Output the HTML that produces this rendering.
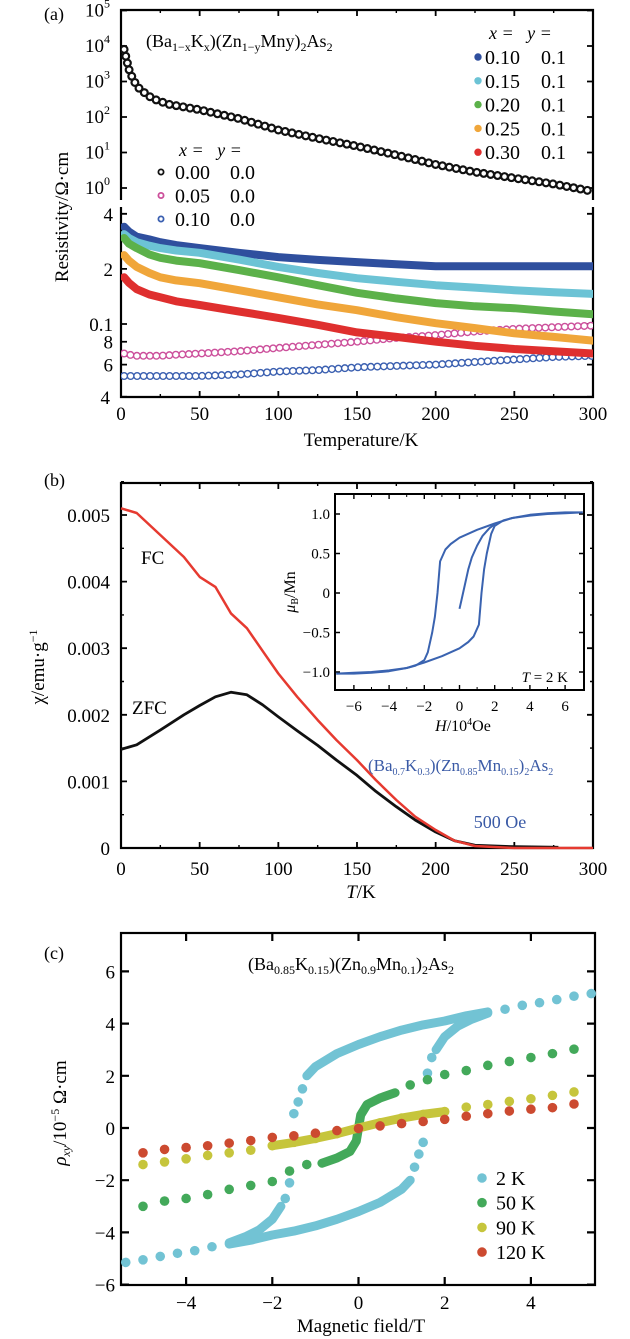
<!DOCTYPE html>
<html><head><meta charset="utf-8">
<style>
html,body{margin:0;padding:0;background:#fff;}
svg{display:block;font-family:"Liberation Serif",serif;}
</style></head>
<body>
<svg id="fig" width="630" height="1339" viewBox="0 0 630 1339" xmlns="http://www.w3.org/2000/svg">
<defs>
<clipPath id="clipAU"><rect x="121" y="10" width="472" height="190"/></clipPath>
<clipPath id="clipAL"><rect x="121" y="207" width="472" height="190"/></clipPath>
</defs>
<g id="pa"></g>
<g id="pb"></g>
<g id="pc"></g>
</svg>
<script>
// ---------- Panel (a) data ----------
const aTempsBlack = [2,5,8,12,20,30,50,75,100,125,150,175,200,225,250,275,300];
const aRhoBlack = [8000,2200,1050,600,330,230,160,90,43,25,15,8.5,4.6,2.8,1.9,1.3,0.8];
const aTemps = [2,5,10,18,25,35,50,75,100,125,150,175,200,225,250,275,300];
const aRhoX10 = [0.34,0.32,0.30,0.29,0.28,0.27,0.26,0.245,0.232,0.224,0.218,0.212,0.207,0.207,0.207,0.207,0.207];
const aRhoX15 = [0.31,0.295,0.28,0.268,0.26,0.252,0.245,0.225,0.205,0.19,0.178,0.17,0.163,0.158,0.153,0.149,0.146];
const aRhoX20 = [0.295,0.275,0.26,0.24,0.23,0.222,0.215,0.197,0.18,0.163,0.148,0.138,0.13,0.125,0.122,0.117,0.113];
const aRhoX25 = [0.238,0.222,0.205,0.19,0.18,0.173,0.167,0.153,0.14,0.128,0.119,0.109,0.101,0.095,0.089,0.085,0.081];
const aRhoX30 = [0.18,0.168,0.155,0.145,0.14,0.133,0.127,0.117,0.108,0.099,0.09,0.085,0.08,0.076,0.073,0.071,0.069];
const aRhoP05 = [0.069,0.068,0.067,0.067,0.067,0.068,0.069,0.071,0.074,0.077,0.08,0.084,0.087,0.091,0.094,0.096,0.098];
const aRhoB10 = [0.052,0.052,0.052,0.052,0.052,0.052,0.052,0.053,0.055,0.056,0.058,0.059,0.06,0.062,0.064,0.066,0.067];
const aXTicks = [0,50,100,150,200,250,300];
const aUpperTicks = [0,1,2,3,4,5];
const aLowerTicks = [0.04,0.06,0.08,0.1,0.2,0.4];
const aLowerTickLabels = ["4","6","8","0.1","2","4"];
// ---------- Panel (b) data ----------
const bTemps = [0,10,25,40,50,60,70,80,90,100,112,125,137,150,162,175,187,200,212,225,240,250,275,300];
const bFC = [0.00510,0.00503,0.00470,0.00437,0.00407,0.00392,0.00352,0.00330,0.00296,0.00262,0.00227,0.00192,0.00162,0.00132,0.00102,0.00072,0.00047,0.00027,0.00011,0.00003,0.00001,0.0,0.0,0.0];
const bZFCTemps = [0,10,25,40,50,60,70,80,90,100,112,125,137,150,162,175,187,200,212,225,250,278];
const bZFC = [0.00148,0.00155,0.00177,0.00200,0.00214,0.00227,0.00234,0.00230,0.00215,0.00197,0.00176,0.00154,0.00132,0.00109,0.00085,0.00062,0.00042,0.00024,0.00011,0.00004,0.00002,0.00001];
const bYTicks = [0,0.001,0.002,0.003,0.004,0.005];
const bYTickLabels = ["0","0.001","0.002","0.003","0.004","0.005"];
const bXTicks = [0,50,100,150,200,250,300];
const insetHDown = [7,6,5,4,3,2,1,0,-0.5,-0.8,-1.1,-1.25,-1.4,-1.55,-1.8,-2.0,-2.5,-3,-4,-5,-6,-7];
const insetMDown = [1.02,1.02,1.01,0.99,0.95,0.88,0.80,0.70,0.62,0.55,0.40,0.0,-0.3,-0.5,-0.75,-0.85,-0.92,-0.95,-0.98,-1.0,-1.01,-1.02];
const insetHUp = [-7,-6,-5,-4,-3,-2,-1,0,0.5,0.8,1.1,1.25,1.4,1.55,1.8,2.0,2.5,3,4,5,6,7];
const insetMUp = [-1.02,-1.02,-1.01,-0.99,-0.95,-0.88,-0.80,-0.70,-0.62,-0.55,-0.40,0.0,0.3,0.5,0.75,0.85,0.92,0.95,0.98,1.0,1.01,1.02];
const insetHVirgin = [0,0.1,0.3,0.5,0.7,1.0,1.3,1.7,2.0];
const insetMVirgin = [-0.2,-0.1,0.1,0.3,0.45,0.6,0.72,0.82,0.87];
const insetXTicks = [-6,-4,-2,0,2,4,6];
const insetYTicks = [-1,-0.5,0,0.5,1];
const insetYTickLabels = ["\u22121.0","\u22120.5","0","0.5","1.0"];
// ---------- Panel (c) data ----------
const c2KSparseH = [5.4,5.0,4.6,4.2,3.8,3.4,-5.4,-5.0,-4.6,-4.2,-3.8,-3.4,-1.5,-1.4,-1.3,1.5,1.4,1.3,-1.6,-1.7,1.6,1.7];
const c2KSparseV = [5.15,5.05,4.92,4.8,4.7,4.55,-5.15,-5.05,-4.92,-4.8,-4.7,-4.55,0.55,1.0,1.5,-0.55,-1.0,-1.5,-2.1,-2.7,2.1,2.7];
const c2KLoopUpH = [3,2.5,2,1.5,1,0.5,0,-0.5,-1,-1.2];
const c2KLoopUpV = [4.45,4.3,4.1,3.95,3.75,3.5,3.2,2.85,2.35,2.0];
const c2KLoopLoH = [-3,-2.5,-2,-1.5,-1,-0.5,0,0.5,1,1.2];
const c2KLoopLoV = [-4.45,-4.3,-4.1,-3.95,-3.75,-3.5,-3.2,-2.85,-2.35,-2.0];
const c2KTailPosH = [1.8,2.0,2.3,2.6,3.0];
const c2KTailPosV = [3.0,3.5,3.9,4.15,4.4];
const c2KTailNegH = [-1.8,-2.0,-2.3,-2.6,-3.0];
const c2KTailNegV = [-3.0,-3.5,-3.9,-4.15,-4.4];
const c50KH = [-5,-4.5,-4,-3.5,-3,-2.5,-2,-1.6,-1.2,1.2,1.6,2,2.5,3,3.5,4,4.5,5];
const c50KV = [-3.0,-2.8,-2.7,-2.55,-2.35,-2.2,-2.05,-1.65,-1.4,1.65,1.85,2.05,2.2,2.4,2.55,2.7,2.85,3.02];
const c50KDenseH = [-0.85,-0.5,-0.2,-0.05,0,0.05,0.2,0.5,0.85];
const c50KDenseV = [-1.35,-1.15,-0.9,-0.5,0,0.5,0.9,1.15,1.35];
const c90KH = [-5,-4.5,-4,-3.5,-3,-2.5,2.5,3,3.5,4,4.5,5];
const c90KV = [-1.4,-1.3,-1.18,-1.05,-0.95,-0.85,0.8,0.9,1.02,1.12,1.25,1.38];
const c90KDenseH = [-2,-1.5,-1,-0.5,0,0.5,1,1.5,2];
const c90KDenseV = [-0.68,-0.55,-0.4,-0.22,0,0.2,0.38,0.52,0.63];
const c120KH = [-5,-4.5,-4,-3.5,-3,-2.5,-2,-1.5,-1,-0.5,0,0.5,1,1.5,2,2.5,3,3.5,4,4.5,5];
const c120KV = [-0.95,-0.82,-0.75,-0.68,-0.58,-0.48,-0.36,-0.3,-0.2,-0.1,-0.02,0.08,0.17,0.25,0.33,0.45,0.55,0.65,0.72,0.78,0.92];
const cXTicks = [-4,-2,0,2,4];
const cXTickLabels = ["\u22124","\u22122","0","2","4"];
const cYTicks = [-6,-4,-2,0,2,4,6];
const cYTickLabels = ["\u22126","\u22124","\u22122","0","2","4","6"];

const NS = "http://www.w3.org/2000/svg";
function mk(parent, tag, attrs, txt){
  const e = document.createElementNS(NS, tag);
  for (const k in attrs) e.setAttribute(k, attrs[k]);
  if (txt !== undefined) e.textContent = txt;
  parent.appendChild(e);
  return e;
}
const pa = document.getElementById('pa');
const pb = document.getElementById('pb');
const pc = document.getElementById('pc');

const xA = t => 121 + t * 1.5733;
const yAU = v => 188 - Math.log10(v) * 35.5;
const yAL = v => 324 - (Math.log10(v) + 1) * 183;
const xB = t => 121 + t * 1.5733;
const yB = v => 848 - v * 66600;
const xI = h => 459.5 + h * 17.6;
const yI = m => 593 - m * 79;
const xC = h => 358.5 + h * 43.1;
const yC = v => 1128 - v * 26.1;

function pts(xs, ys, fx, fy){ return xs.map((x,i)=> fx(x).toFixed(1)+','+fy(ys[i]).toFixed(1)).join(' '); }

// ================= PANEL A =================
let e;
e = mk(pa,'text',{x:44,y:20,'font-size':18},'(a)');
 
e = mk(pa,'path',{d:'M121,200 L121,10 L593,10 L593,200',fill:'none',stroke:'#000','stroke-width':2.2});
 
e = mk(pa,'path',{d:'M121,207 L121,397 L593,397 L593,207',fill:'none',stroke:'#000','stroke-width':2.2});
 
aUpperTicks.forEach(p=>{
  const y = yAU(Math.pow(10,p));
  let t = mk(pa,'path',{d:`M121,${y} h6 M593,${y} h-6`,stroke:'#000','stroke-width':1.8});
   
  let l = mk(pa,'text',{x:85,y:y+6,'font-size':19},'10');
   
  mk(l,'tspan',{dy:-9,'font-size':12},String(p));
});
aXTicks.forEach(t=>{
  const x = xA(t);
  let k = mk(pa,'path',{d:`M${x},10 v6 M${x},397 v-6`,stroke:'#000','stroke-width':1.8});
   
  let l = mk(pa,'text',{x:x,y:420,'font-size':19,'text-anchor':'middle'},String(t));
   
});
aXTicks.slice(0,-1).forEach(t=>{
  const x = xA(t+25);
  let k = mk(pa,'path',{d:`M${x},10 v3 M${x},397 v-3`,stroke:'#000','stroke-width':1.4});
   
});
aLowerTicks.forEach((v,i)=>{
  const y = yAL(v);
  let k = mk(pa,'path',{d:`M121,${y} h6 M593,${y} h-6`,stroke:'#000','stroke-width':1.8});
   
  let l = mk(pa,'text',{x:i==0?110:113,y:y+7,'font-size':19,'text-anchor':'end'},aLowerTickLabels[i]);
   
});
e = mk(pa,'text',{x:361,y:446,'font-size':19,'text-anchor':'middle'},'Temperature/K');
 
e = mk(pa,'text',{transform:'translate(68,217) rotate(-90)','font-size':19,'text-anchor':'middle'},'Resistivity/\u03A9\u00B7cm');
 
e = mk(pa,'text',{x:146,y:47,'font-size':18});
 
[['(Ba',0],['1\u2212x',1],['K',0],['x',1],[')(Zn',0],['1\u2212y',1],['Mny)',0],['2',1],['As',0],['2',1]].forEach((s,i)=>{
  let dy = s[1]?4:(i>0?-4:0);
  mk(e,'tspan',{'font-size':s[1]?12:18,dy:dy},s[0]);
});
const gU = mk(pa,'g',{'clip-path':'url(#clipAU)'});
e = mk(gU,'polyline',{points:pts(aTempsBlack,aRhoBlack,xA,yAU),fill:'none',stroke:'#111','stroke-width':9,'stroke-linecap':'round','stroke-dasharray':'0 7'});
 
e = mk(gU,'polyline',{points:pts(aTempsBlack,aRhoBlack,xA,yAU),fill:'none',stroke:'#fff','stroke-width':4.6,'stroke-linecap':'round','stroke-dasharray':'0 7'});
 
const gL = mk(pa,'g',{'clip-path':'url(#clipAL)'});
[[aRhoP05,'#cc4f9b'],[aRhoB10,'#3a5fb0']].forEach((s,i)=>{
  let o = mk(gL,'polyline',{points:pts(aTemps,s[0],xA,yAL),fill:'none',stroke:s[1],'stroke-width':8,'stroke-linecap':'round','stroke-dasharray':'0 6.5'});
   
  let f = mk(gL,'polyline',{points:pts(aTemps,s[0],xA,yAL),fill:'none',stroke:'#fff','stroke-width':5.2,'stroke-linecap':'round','stroke-dasharray':'0 6.5'});
   
});
const aFilled = [[aRhoX10,'#2f4f9e','series-x010-y01'],[aRhoX15,'#6cc3d5','series-x015-y01'],[aRhoX20,'#5cb14a','series-x020-y01'],[aRhoX25,'#f0a63a','series-x025-y01'],[aRhoX30,'#df2f2e','series-x030-y01']];
aFilled.forEach(s=>{
  let l = mk(gL,'polyline',{points:pts(aTemps,s[0],xA,yAL),fill:'none',stroke:s[1],'stroke-width':8,'stroke-linecap':'round','stroke-linejoin':'round'});
   
});
e = mk(pa,'text',{x:489,y:39,'font-size':18,'font-style':'italic'},'x =   y =');
 
e.style.whiteSpace='pre';
const legR = [['0.10','#2f4f9e'],['0.15','#6cc3d5'],['0.20','#5cb14a'],['0.25','#f0a63a'],['0.30','#df2f2e']];
legR.forEach((s,i)=>{
  const y = 57 + i*23.8;
  let c = mk(pa,'circle',{cx:478,cy:y,r:3.7,fill:s[1]});
   
  let t = mk(pa,'text',{x:485,y:y+7,'font-size':20},s[0]);
   
  let t2 = mk(pa,'text',{x:541,y:y+7,'font-size':20},'0.1');
   
});
e = mk(pa,'text',{x:179,y:156,'font-size':18,'font-style':'italic'},'x =   y =');
 
e.style.whiteSpace='pre';
const legL = [['0.00','#111'],['0.05','#cc4f9b'],['0.10','#3a5fb0']];
legL.forEach((s,i)=>{
  const y = 172 + i*23.5;
  let c = mk(pa,'circle',{cx:161,cy:y,r:2.6,fill:'#fff',stroke:s[1],'stroke-width':1.8});
   
  let t = mk(pa,'text',{x:175,y:y+7,'font-size':20},s[0]);
   
  let t2 = mk(pa,'text',{x:230,y:y+7,'font-size':20},'0.0');
   
});

// ================= PANEL B =================
e = mk(pb,'text',{x:44,y:486,'font-size':18},'(b)');
 
e = mk(pb,'rect',{x:121,y:483,width:472,height:365,fill:'none',stroke:'#000','stroke-width':2.2});
 
bYTicks.forEach((v,i)=>{
  const y = yB(v);
  let k = mk(pb,'path',{d:`M121,${y} h6 M593,${y} h-6`,stroke:'#000','stroke-width':1.8});
   
  let l = mk(pb,'text',{x:110,y:y+7,'font-size':19,'text-anchor':'end'},bYTickLabels[i]);
   
  const ym = yB(v+0.0005);
  let m = mk(pb,'path',{d:`M121,${ym} h3 M593,${ym} h-3`,stroke:'#000','stroke-width':1.4});
   
});
bXTicks.forEach(t=>{
  const x = xB(t);
  let k = mk(pb,'path',{d:`M${x},483 v6 M${x},848 v-6`,stroke:'#000','stroke-width':1.8});
   
  let l = mk(pb,'text',{x:x,y:875,'font-size':19,'text-anchor':'middle'},String(t));
   
  if (t<300){ const xm = xB(t+25);
    let m = mk(pb,'path',{d:`M${xm},483 v3 M${xm},848 v-3`,stroke:'#000','stroke-width':1.4});
      }
});
e = mk(pb,'text',{x:361,y:898,'font-size':19,'text-anchor':'middle'});
 
mk(e,'tspan',{'font-style':'italic'},'T'); mk(e,'tspan',{},'/K');
e = mk(pb,'text',{transform:'translate(44,667) rotate(-90)','font-size':19,'text-anchor':'middle'},'\u03C7/emu\u00B7g');
 
mk(e,'tspan',{dy:-7,'font-size':12},'\u22121');
e = mk(pb,'polyline',{points:pts(bZFCTemps,bZFC,xB,yB),fill:'none',stroke:'#111','stroke-width':2.8,'stroke-linejoin':'round'});
 
e = mk(pb,'polyline',{points:pts(bTemps,bFC,xB,yB),fill:'none',stroke:'#e63a30','stroke-width':2.5,'stroke-linejoin':'round'});
 
e = mk(pb,'text',{x:141,y:564,'font-size':19},'FC');
 
e = mk(pb,'text',{x:132,y:714,'font-size':19},'ZFC');
 
e = mk(pb,'text',{x:368,y:771,'font-size':17,fill:'#3a5aa6'});
 
[['(Ba',0],['0.7',1],['K',0],['0.3',1],[')(Zn',0],['0.85',1],['Mn',0],['0.15',1],[')',0],['2',1],['As',0],['2',1]].forEach((s,i)=>{
  let dy = s[1]?4:(i>0?-4:0);
  mk(e,'tspan',{'font-size':s[1]?10:17,dy:dy},s[0]);
});
e = mk(pb,'text',{x:500,y:828,'font-size':18,fill:'#3a5aa6','text-anchor':'middle'},'500 Oe');
 
e = mk(pb,'rect',{x:335,y:494,width:249,height:196,fill:'#fff',stroke:'#000','stroke-width':2});
 
insetXTicks.forEach(h=>{
  const x = xI(h);
  let k = mk(pb,'path',{d:`M${x},494 v5 M${x},690 v-5`,stroke:'#000','stroke-width':1.4});
   
  let l = mk(pb,'text',{x:x,y:711,'font-size':15,'text-anchor':'middle'},h<0?'\u2212'+(-h):String(h));
   
  if (h<6){ const xm = xI(h+1);
    let m = mk(pb,'path',{d:`M${xm},494 v3 M${xm},690 v-3`,stroke:'#000','stroke-width':1});
      }
});
insetYTicks.forEach((m,i)=>{
  const y = yI(m);
  let k = mk(pb,'path',{d:`M335,${y} h5 M584,${y} h-5`,stroke:'#000','stroke-width':1.4});
   
  let l = mk(pb,'text',{x:330,y:y+5,'font-size':15,'text-anchor':'end'},insetYTickLabels[i]);
   
});
e = mk(pb,'text',{x:463,y:731,'font-size':16,'text-anchor':'middle'});
 
mk(e,'tspan',{'font-style':'italic'},'H'); mk(e,'tspan',{},'/10'); mk(e,'tspan',{dy:-6,'font-size':10},'4'); mk(e,'tspan',{dy:6},'Oe');
e = mk(pb,'text',{transform:'translate(295,592) rotate(-90)','font-size':16,'text-anchor':'middle'});
 
mk(e,'tspan',{'font-style':'italic'},'\u03BC'); mk(e,'tspan',{dy:3,'font-size':10},'B'); mk(e,'tspan',{dy:-3},'/Mn');
e = mk(pb,'text',{x:568,y:682,'font-size':15,'text-anchor':'end'});
 
mk(e,'tspan',{'font-style':'italic'},'T'); mk(e,'tspan',{},' = 2 K');
[[insetHDown,insetMDown,'inset-branch-down'],[insetHUp,insetMUp,'inset-branch-up'],[insetHVirgin,insetMVirgin,'inset-virgin-curve']].forEach(s=>{
  let l = mk(pb,'polyline',{points:pts(s[0],s[1],xI,yI),fill:'none',stroke:'#3a63b0','stroke-width':2,'stroke-linejoin':'round'});
   
});

// ================= PANEL C =================
e = mk(pc,'text',{x:44,y:959,'font-size':18},'(c)');
 
e = mk(pc,'rect',{x:121,y:933,width:474,height:352,fill:'none',stroke:'#000','stroke-width':2.2});
 
cYTicks.forEach((v,i)=>{
  const y = yC(v);
  let k = mk(pc,'path',{d:`M121,${y} h8 M595,${y} h-8`,stroke:'#000','stroke-width':2.2});
   
  let l = mk(pc,'text',{x:115,y:y+7,'font-size':19,'text-anchor':'end'},cYTickLabels[i]);
   
});
cXTicks.forEach((h,i)=>{
  const x = xC(h);
  let k = mk(pc,'path',{d:`M${x},933 v8 M${x},1285 v-8`,stroke:'#000','stroke-width':2.2});
   
  let l = mk(pc,'text',{x:x,y:1309,'font-size':19,'text-anchor':'middle'},cXTickLabels[i]);
   
});
e = mk(pc,'text',{x:361,y:1332,'font-size':19,'text-anchor':'middle'},'Magnetic field/T');
 
e = mk(pc,'text',{transform:'translate(66,1113) rotate(-90)','font-size':19,'text-anchor':'middle'});
 
mk(e,'tspan',{'font-style':'italic'},'\u03C1'); mk(e,'tspan',{dy:4,'font-size':12,'font-style':'italic'},'xy'); mk(e,'tspan',{dy:-4},'/10'); mk(e,'tspan',{dy:-7,'font-size':12},'\u22125'); mk(e,'tspan',{dy:7},' \u03A9\u00B7cm');
e = mk(pc,'text',{x:351,y:970,'font-size':18,'text-anchor':'middle'});
 
[['(Ba',0],['0.85',1],['K',0],['0.15',1],[')(Zn',0],['0.9',1],['Mn',0],['0.1',1],[')',0],['2',1],['As',0],['2',1]].forEach((s,i)=>{
  let dy = s[1]?4:(i>0?-4:0);
  mk(e,'tspan',{'font-size':s[1]?12:18,dy:dy},s[0]);
});
function dots(xs, ys, color, name){
  xs.forEach((h,i)=>{
    let c = mk(pc,'circle',{cx:xC(h),cy:yC(ys[i]),r:4.8,fill:color});
     
  });
}
function band(xs, ys, color, name){
  let l = mk(pc,'polyline',{points:pts(xs,ys,xC,yC),fill:'none',stroke:color,'stroke-width':9,'stroke-linecap':'round','stroke-linejoin':'round'});
   
}
const col2 = '#72c3d4', col50 = '#43a95a', col90 = '#c6c53c', col120 = '#cc4a30';
band(c2KLoopUpH,c2KLoopUpV,col2,'series-2k-upper-branch');
band(c2KLoopLoH,c2KLoopLoV,col2,'series-2k-lower-branch');
band(c2KTailPosH,c2KTailPosV,col2,'series-2k-positive-tail');
band(c2KTailNegH,c2KTailNegV,col2,'series-2k-negative-tail');
dots(c2KSparseH,c2KSparseV,col2,'series-2k-point');
band(c50KDenseH,c50KDenseV,col50,'series-50k-center');
dots(c50KH,c50KV,col50,'series-50k-point');
band(c90KDenseH,c90KDenseV,col90,'series-90k-center');
dots(c90KDenseH,c90KDenseV,col90,'series-90k-point');
dots(c90KH,c90KV,col90,'series-90k-point');
dots(c120KH,c120KV,col120,'series-120k-point');
const legC = [['2 K',col2],['50 K',col50],['90 K',col90],['120 K',col120]];
legC.forEach((s,i)=>{
  const y = 1178 + i*24.7;
  let c = mk(pc,'circle',{cx:482,cy:y,r:4.8,fill:s[1]});
   
  let t = mk(pc,'text',{x:496,y:y+7,'font-size':20},s[0]);
   
});
</script>
</body></html>
